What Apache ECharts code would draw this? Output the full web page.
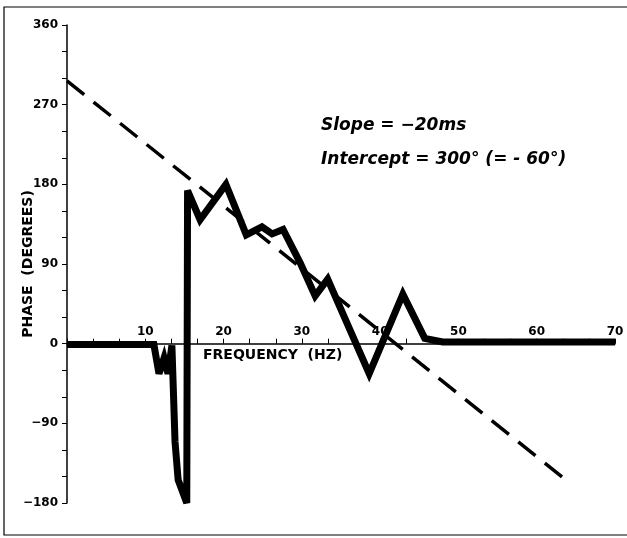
<!DOCTYPE html>
<html>
<head>
<meta charset="utf-8">
<script src="https://cdn.jsdelivr.net/npm/echarts@6/dist/echarts.min.js"></script>
<style>
  html, body { margin: 0; padding: 0; background: #fff; }
  #chart { width: 627px; height: 538px; }
</style>
</head>
<body>
<div id="chart"></div>
<script>
// measured phase curve (Hz, degrees)
const freqHz = [0, 11.1, 11.75, 12.4, 12.9, 13.4, 13.8, 14.2, 15.3, 15.4, 17.0, 20.3, 22.9, 24.9, 26.2, 27.6, 29.8, 31.7, 33.3, 38.6, 42.9, 45.7, 48.0, 70]
const phaseDeg = [-1, -1, -34, -16, -34, -2, -111, -154, -180, 173, 140, 180, 123, 132, 124, 129, 91, 54, 73, -34, 56, 6, 2, 2]

// fitted line: slope -20 ms, intercept 300 deg
const fitFreq = [0, 63.3]
const fitPhase = [297, -151]

const yLabels = [-180, -90, 0, 90, 180, 270, 360]
const xLabels = [10, 20, 30, 40, 50, 60, 70]

const labelFont = 'DejaVu Sans'
const gridTop = 25
const gridBottom = 35
const yMin = -180
const yMax = 360

const chart = echarts.init(document.getElementById('chart'))

// the x axis sits on phase = 0, so shift it up from the bottom of the grid
const plotH = 538 - gridTop - gridBottom
const zeroOffset = -plotH * (0 - yMin) / (yMax - yMin)

chart.setOption({
  animation: false,
  backgroundColor: '#fff',
  grid: {
    left: 67,
    right: 12,
    top: gridTop,
    bottom: gridBottom,
    outerBoundsMode: 'none',
  },
  xAxis: {
    type: 'value',
    min: 0,
    max: 70,
    interval: 10,
    offset: zeroOffset,
    axisLine: { onZero: false, lineStyle: { color: '#000', width: 1.5 } },
    axisTick: { inside: true, length: 5, lineStyle: { color: '#000' } },
    minorTick: { show: true, splitNumber: 3, length: 5, lineStyle: { color: '#000' } },
    splitLine: { show: false },
    axisLabel: {
      inside: true,
      margin: 6,
      color: '#000',
      fontFamily: labelFont,
      fontWeight: 'bold',
      fontSize: 12,
      showMinLabel: false,
      formatter: (v) => (xLabels.includes(v) ? String(v) : ''),
    },
  },
  yAxis: {
    type: 'value',
    min: yMin,
    max: yMax,
    interval: 90,
    name: 'PHASE  (DEGREES)',
    nameLocation: 'middle',
    nameGap: 32,
    nameRotate: 90,
    nameMoveOverlap: false,
    nameTextStyle: { color: '#000', fontFamily: labelFont, fontWeight: 'bold', fontSize: 14 },
    axisLine: { onZero: false, lineStyle: { color: '#000', width: 1.5 } },
    axisTick: { length: 5, lineStyle: { color: '#000' } },
    minorTick: { show: true, splitNumber: 3, length: 5, lineStyle: { color: '#000' } },
    splitLine: { show: false },
    axisLabel: {
      margin: 9,
      color: '#000',
      fontFamily: labelFont,
      fontWeight: 'bold',
      fontSize: 12,
      formatter: (v) => (yLabels.includes(v) ? (v < 0 ? '\u2212' + Math.abs(v) : String(v)) : ''),
    },
  },
  graphic: [
    {
      type: 'rect',
      shape: { x: 4, y: 7, width: 640, height: 528 },
      style: { fill: 'none', stroke: '#000', lineWidth: 1.2 },
      silent: true,
    },
    {
      type: 'text',
      left: 203,
      top: 348,
      style: { text: 'FREQUENCY  (HZ)', fill: '#000', font: 'bold 14px "DejaVu Sans"' },
    },
    {
      type: 'text',
      left: 321,
      top: 117,
      style: { text: 'Slope = \u221220ms', fill: '#000', font: 'italic bold 17px "DejaVu Sans"' },
    },
    {
      type: 'text',
      left: 321,
      top: 151,
      style: { text: 'Intercept = 300\u00b0 (= - 60\u00b0)', fill: '#000', font: 'italic bold 17px "DejaVu Sans"' },
    },
  ],
  series: [
    {
      name: 'fit',
      type: 'line',
      data: fitFreq.map((f, i) => [f, fitPhase[i]]),
      symbol: 'none',
      lineStyle: { color: '#000', width: 3.5, type: [22, 12] },
      z: 2,
    },
    {
      name: 'phase',
      type: 'line',
      data: freqHz.map((f, i) => [f, phaseDeg[i]]),
      symbol: 'none',
      lineStyle: { color: '#000', width: 7, join: 'miter', miterLimit: 4 },
      z: 3,
    },
  ],
})
</script>
</body>
</html>
